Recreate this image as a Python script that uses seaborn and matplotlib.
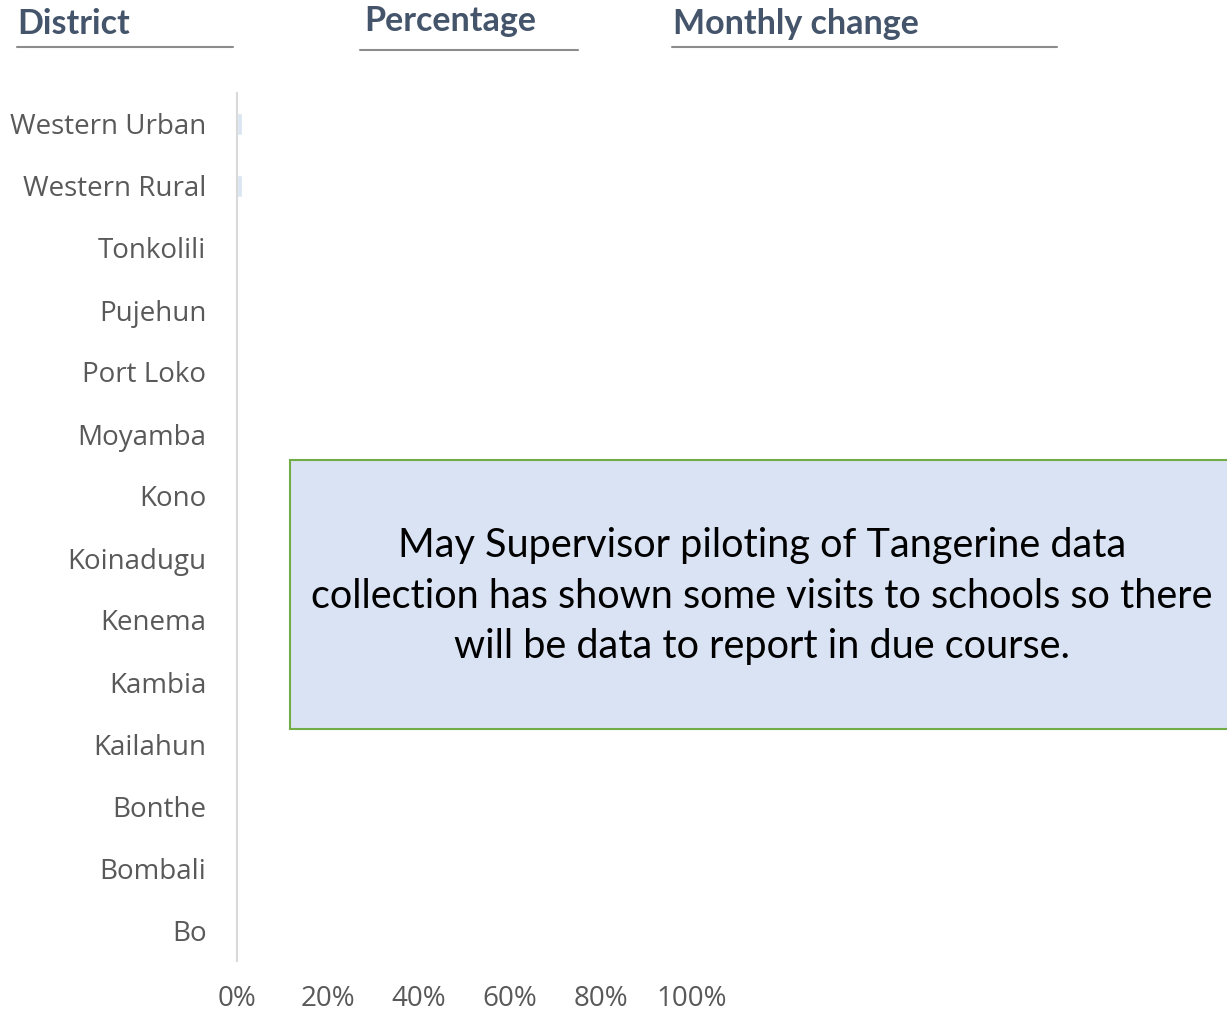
import matplotlib
matplotlib.use("Agg")
import matplotlib.pyplot as plt
import seaborn as sns
import pandas as pd
from matplotlib.patches import Rectangle
from matplotlib.ticker import PercentFormatter

# data (top to bottom)
districts = ["Western Urban", "Western Rural", "Tonkolili", "Pujehun", "Port Loko",
             "Moyamba", "Kono", "Koinadugu", "Kenema", "Kambia", "Kailahun",
             "Bonthe", "Bombali", "Bo"]
percentage = [0.01, 0.01, 0, 0, 0, 0, 0, 0, 0, 0, 0, 0, 0, 0]
x_ticks = [0, 0.2, 0.4, 0.6, 0.8, 1.0]
headers = ["District", "Percentage", "Monthly change"]
note = ("May Supervisor piloting of Tangerine data\n"
        "collection has shown some visits to schools so there\n"
        "will be data to report in due course.")

df = pd.DataFrame({"District": districts, "Percentage": percentage})

sns.set_style("white")
plt.rcParams['font.family'] = ['Open Sans', 'DejaVu Sans']

W, H = 1227, 1014
fig = plt.figure(figsize=(W / 100, H / 100), dpi=100)
ax = fig.add_axes([237 / W, 1 - 961 / H, (692 - 237) / W, (961 - 93) / H])

sns.barplot(data=df, x="Percentage", y="District", orient="h", color="#dae5f2",
            width=0.37, saturation=1, ax=ax)

ax.set_xlim(0, 1.0)
ax.set_xticks(x_ticks)
ax.xaxis.set_major_formatter(PercentFormatter(1.0, decimals=0))
ax.set_xlabel("")
ax.set_ylabel("")
ax.tick_params(axis="y", length=0, pad=22, labelsize=20, labelcolor="#595959")
ax.tick_params(axis="x", length=0, pad=17, labelsize=20, labelcolor="#595959")
for s in ["top", "right", "bottom"]:
    ax.spines[s].set_visible(False)
ax.spines["left"].set_color("#d9d9d9")
ax.spines["left"].set_linewidth(1.5)

# column headers with underlines
head_pos = [(17, 24, 17, 233, 47), (364, 21, 360, 578, 50), (673, 24, 672, 1057, 47)]
for txt, (tx, ty, lx0, lx1, ly) in zip(headers, head_pos):
    fig.text(tx / W, 1 - ty / H, txt, ha="left", va="center", fontsize=24.5,
             fontweight="bold", color="#44546a", family=["Lato", "DejaVu Sans"])
    fig.add_artist(plt.Line2D([lx0 / W, lx1 / W], [1 - ly / H, 1 - ly / H],
                              color="#8c8c8c", linewidth=1.5))

# note box
fig.add_artist(Rectangle((290 / W, 1 - 729 / H), (1240 - 290) / W, (729 - 460) / H,
                         facecolor="#dae3f3", edgecolor="#70ad47", linewidth=1.5,
                         transform=fig.transFigure))
fig.text(762 / W, 1 - 596 / H, note, ha="center", va="center", fontsize=28.5,
         color="#000000", linespacing=1.46, family=["Lato", "DejaVu Sans"])

fig.savefig("out.png", dpi=100)
